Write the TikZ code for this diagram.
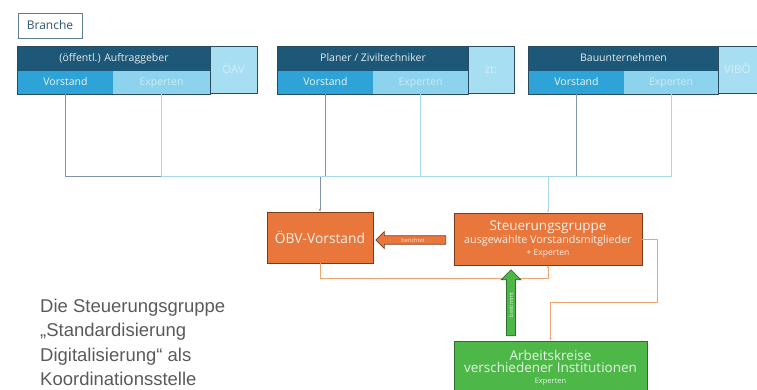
\documentclass[tikz,border=0pt]{standalone}
\usepackage{fontspec}
\setmainfont{Open Sans}
\newfontfamily\condfont{Liberation Sans}
\usetikzlibrary{shapes.arrows,arrows.meta}
\definecolor{hdrblue}{HTML}{1D5878}
\definecolor{vblue}{HTML}{2EA3D8}
\definecolor{eblue}{HTML}{8ED3EE}
\definecolor{sblue}{HTML}{A8DEF2}
\definecolor{frame}{HTML}{2C4B5E}
\definecolor{vgray}{HTML}{7F93A4}
\definecolor{elblue}{HTML}{A6D7EC}
\definecolor{orangebox}{HTML}{E9773B}
\definecolor{orangeline}{HTML}{F0A473}
\definecolor{orangeedge}{HTML}{7A3A1C}
\definecolor{greenbox}{HTML}{4DB848}
\definecolor{greenedge}{HTML}{2C6E2A}
\definecolor{leftgray}{HTML}{5A5A5A}
\definecolor{branchetext}{HTML}{2D5870}
\definecolor{brancheedge}{HTML}{5A7D92}
\begin{document}
\begin{tikzpicture}[x=1pt,y=-1pt,
  cell/.style={inner sep=0pt, text height=7.5pt, text depth=2.2pt},
  hdrbox/.style={cell, fill=hdrblue, text=white!88!hdrblue, minimum height=24pt, font=\fontsize{10.5}{12}\selectfont},
  vbox/.style={cell, fill=vblue, text=white!90!vblue, minimum height=23pt, font=\fontsize{10.5}{12}\selectfont},
  ebox/.style={cell, fill=eblue, text=white!55!eblue, minimum height=23pt, font=\fontsize{10.5}{12}\selectfont},
  sidebox/.style={cell, fill=sblue, draw=frame, line width=1pt, text=white!50!sblue, minimum width=47pt, minimum height=47pt, font=\fontsize{11.5}{12}\selectfont},
  groupframe/.style={draw=frame, line width=1pt},
  vline/.style={draw=vgray, line width=0.7pt},
  eline/.style={draw=elblue, line width=0.7pt},
  tip/.style={-{Stealth[length=3pt,width=2.5pt]}},
  obox/.style={fill=orangebox, draw=orangeedge, line width=0.8pt, text=white!90!orangebox, align=center, inner sep=0pt},
  gbox/.style={fill=greenbox, draw=greenedge, line width=0.8pt, text=white!85!greenbox, align=center, inner sep=0pt},
  oline/.style={draw=orangeline, line width=0.8pt},
]
\useasboundingbox (0,0) rectangle (757,390);
\clip (0,0) rectangle (757,390);

% Branche
\node[draw=brancheedge, line width=1pt, fill=white, text=branchetext, font=\fontsize{12}{14}\selectfont, minimum width=64pt, minimum height=25pt, inner sep=0pt, text height=9pt, text depth=2.5pt] (branche) at (50,26.5) {Branche};

% group 1
\node[hdrbox, minimum width=192pt] (h1) at (114,59) {(öffentl.) Auftraggeber};
\node[vbox, minimum width=95pt] (v1) at (65.5,82.5) {Vorstand};
\node[ebox, minimum width=97pt] (e1) at (161.5,82.5) {Experten};
\draw[groupframe] (h1.north west) rectangle (e1.south east);
\node[sidebox] (s1) at (233.5,70.5) {ÖAV};

% group 2
\node[hdrbox, minimum width=190pt] (h2) at (373,59) {Planer / Ziviltechniker};
\node[vbox, minimum width=95pt] (v2) at (325.5,82.5) {Vorstand};
\node[ebox, minimum width=95pt] (e2) at (420.5,82.5) {Experten};
\draw[groupframe] (h2.north west) rectangle (e2.south east);
\node[sidebox, minimum width=46pt] (s2) at (491,70.5) {zt:};

% group 3
\node[hdrbox, minimum width=189pt] (h3) at (623.5,59) {Bauunternehmen};
\node[vbox, minimum width=95pt] (v3) at (576.5,82.5) {Vorstand};
\node[ebox, minimum width=94pt] (e3) at (671,82.5) {Experten};
\draw[groupframe] (h3.north west) rectangle (e3.south east);
\node[sidebox, minimum width=50pt, text width=38pt, align=left] (s3) at (743,70.5) {VIBÖ};

% central boxes
\node[obox, minimum width=106pt, minimum height=51pt, font=\fontsize{13.8}{16}\selectfont] (obv) at (320,237.5) {ÖBV-Vorstand};
\node[obox, minimum width=188pt, minimum height=52pt] (steuer) at (548,239)
  {{\fontsize{13.5}{16}\selectfont Steuerungsgruppe}\\[1.5pt]{\fontsize{10.8}{13}\selectfont ausgewählte Vorstandsmitglieder}\\[-0.5pt]{\fontsize{8.5}{10}\selectfont + Experten}};
\node[gbox, minimum width=193pt, minimum height=54pt] (ak) at (550.5,368)
  {{\fontsize{13.5}{18}\selectfont Arbeitskreise}\\[0pt]{\fontsize{13.5}{18}\selectfont verschiedener Institutionen}\\[-1pt]{\fontsize{7.5}{9}\selectfont Experten}};

% bus lines
\coordinate (bus) at (0,176);
\draw[vline] (v1.south) -- (v1.south |- bus) -- (v3.south |- bus) -- (v3.south);
\draw[vline] (v2.south) -- (v2.south |- bus);
\draw[vline,tip] (obv.north |- bus) -- (obv.north);
\draw[eline] (e1.south) -- (e1.south |- bus) -- (e3.south |- bus) -- (e3.south);
\draw[eline] (e2.south) -- (e2.south |- bus);
\draw[eline,tip] (steuer.north |- bus) -- (steuer.north);

% orange connectors
\coordinate (ob) at (0,278);
\draw[oline,tip] (obv.south) -- (obv.south |- ob) -- (steuer.south |- ob) -- (steuer.south);
\coordinate (sr) at (657,0);
\coordinate (mid) at (0,302);
\draw[oline,tip] (steuer.east) -- (sr |- steuer.east) -- (sr |- mid) -- (ak.north |- mid) -- (ak.north);

% berichtet arrow
\node[single arrow, shape border rotate=180, fill=orangebox, draw=orangeedge, line width=0.7pt,
  minimum height=70pt, minimum width=17pt, single arrow head extend=4pt, single arrow head indent=0pt,
  inner sep=1.5pt, text=white!80!orangebox, font=\fontsize{5.5}{6}\selectfont] (ber) at (413,240) {berichtet};

% bestimmt arrow
\node[single arrow, rotate=90, fill=greenbox, draw=greenedge, line width=0.7pt,
  minimum height=66pt, minimum width=20pt, single arrow head extend=5pt,
  inner sep=1.5pt, text=white!80!greenbox, font=\fontsize{5.5}{6}\selectfont] (best) at (511,305) {bestimmt};

% description
\node[anchor=north west, align=left, inner sep=0pt, text=leftgray, font=\condfont\fontsize{18.5}{24.3}\selectfont] (desc) at (40,299)
  {Die Steuerungsgruppe\\„Standardisierung\\Digitalisierung“ als\\Koordinationsstelle};
\end{tikzpicture}
\end{document}
